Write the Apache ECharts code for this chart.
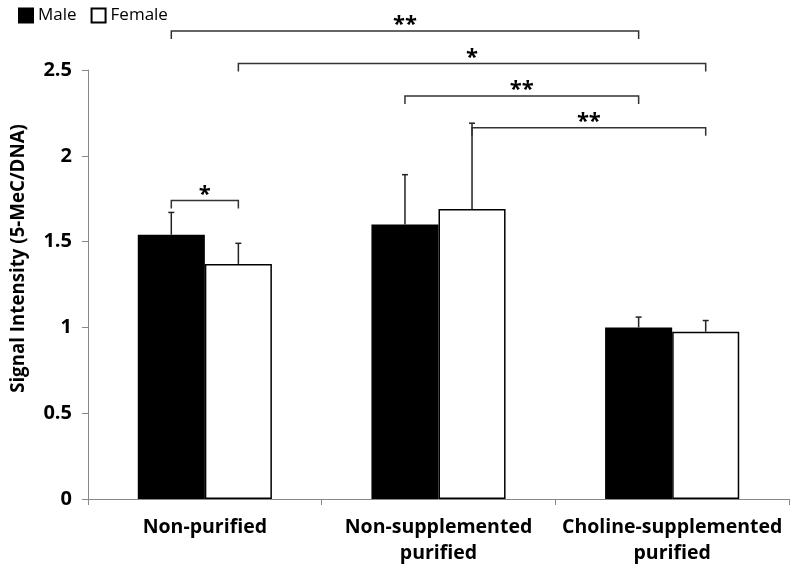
<!DOCTYPE html>
<html>
<head>
<meta charset="utf-8">
<script src="https://cdn.jsdelivr.net/npm/echarts@6/dist/echarts.min.js"></script>
<style>html,body{margin:0;padding:0;background:#fff}#c{width:792px;height:566px}</style>
</head>
<body>
<div id="c"></div>
<script>
const categories = ['Non-purified', 'Non-supplemented\npurified', 'Choline-supplemented\npurified'];
const seriesNames = ['Male', 'Female'];
const maleValues = [1.54, 1.60, 1.00];
const femaleValues = [1.37, 1.69, 0.975];
const maleErrors = [0.13, 0.29, 0.06];
const femaleErrors = [0.12, 0.50, 0.065];
const yTicks = [0, 0.5, 1, 1.5, 2, 2.5];
// significance brackets: [categoryA, seriesA, categoryB, seriesB, level]
const brackets = [[0, 0, 2, 0, 2.727], [0, 1, 2, 1, 2.538], [1, 0, 2, 0, 2.349], [1, 1, 2, 1, 2.163], [0, 0, 0, 1, 1.74]];
const bracketLabels = ['**', '*', '**', '**', '*'];

const BAR_RATIO = 0.287;
const FONT = 'Open Sans';

const chart = echarts.init(document.getElementById('c'));

function errSeries(values, errors, side, name) {
  return {
    type: 'custom',
    name: name + ' error',
    z: 5,
    silent: true,
    data: values.map((v, i) => [i, v, errors[i]]),
    renderItem: function (params, api) {
      const band = api.size([1, 0])[0];
      const bw = band * BAR_RATIO;
      const base = api.coord([api.value(0), api.value(1)]);
      const top = api.coord([api.value(0), api.value(1) + api.value(2)]);
      const x = base[0] + side * bw / 2;
      return {
        type: 'group',
        children: [
          { type: 'line', shape: { x1: x, y1: base[1], x2: x, y2: top[1] }, style: { stroke: '#222', lineWidth: 1.5 } },
          { type: 'line', shape: { x1: x - 3, y1: top[1], x2: x + 3, y2: top[1] }, style: { stroke: '#222', lineWidth: 1.5 } }
        ]
      };
    }
  };
}

const option = {
  animation: false,
  backgroundColor: '#fff',
  textStyle: { fontFamily: FONT },
  legend: {
    data: seriesNames,
    left: 13, top: 2,
    itemWidth: 14, itemHeight: 14, itemGap: 14,
    icon: 'rect',
    textStyle: { fontSize: 17, color: '#000', fontFamily: FONT }
  },
  grid: { left: 88, right: 3, top: 70, bottom: 66 },
  xAxis: {
    type: 'category',
    data: categories,
    axisLine: { lineStyle: { color: '#888', width: 1 } },
    axisTick: { show: true, length: 6, lineStyle: { color: '#888' } },
    axisLabel: { interval: 0, fontSize: 19.5, fontWeight: 'bold', color: '#000', margin: 15, lineHeight: 26, fontFamily: FONT }
  },
  yAxis: {
    type: 'value',
    min: yTicks[0], max: yTicks[yTicks.length - 1], interval: yTicks[1] - yTicks[0],
    name: 'Signal Intensity (5-MeC/DNA)',
    nameLocation: 'middle',
    nameGap: 60,
    nameTextStyle: { fontSize: 18.7, fontWeight: 'bold', color: '#000', fontFamily: FONT, padding: [0, 0, 0, 52] },
    splitLine: { show: false },
    axisLine: { show: true, lineStyle: { color: '#888', width: 1 } },
    axisTick: { show: true, length: 6, lineStyle: { color: '#888' } },
    axisLabel: { fontSize: 20, fontWeight: 'bold', color: '#000', margin: 16, fontFamily: FONT }
  },
  series: [
    {
      type: 'bar', name: seriesNames[0], data: maleValues,
      barWidth: (BAR_RATIO * 100) + '%', barGap: '0%',
      itemStyle: { color: '#000', borderColor: '#000', borderWidth: 1.5 }
    },
    {
      type: 'bar', name: seriesNames[1], data: femaleValues,
      barWidth: (BAR_RATIO * 100) + '%', barGap: '0%',
      itemStyle: { color: '#fff', borderColor: '#000', borderWidth: 1.5 }
    },
    errSeries(maleValues, maleErrors, -1, 'Male'),
    errSeries(femaleValues, femaleErrors, 1, 'Female'),
    {
      type: 'custom',
      name: 'significance',
      clip: false,
      silent: true,
      z: 6,
      data: brackets,
      renderItem: function (params, api) {
        const band = api.size([1, 0])[0];
        const bw = band * BAR_RATIO;
        const y = api.coord([0, api.value(4)])[1];
        const xa = api.coord([api.value(0), 0])[0] + (api.value(1) === 0 ? -0.5 : 0.5) * bw;
        const xb = api.coord([api.value(2), 0])[0] + (api.value(3) === 0 ? -0.5 : 0.5) * bw;
        return {
          type: 'group',
          children: [
            { type: 'polyline', shape: { points: [[xa, y + 8], [xa, y], [xb, y], [xb, y + 8]] }, style: { stroke: '#333', lineWidth: 1.5, fill: null } },
            { type: 'text', style: { text: bracketLabels[params.dataIndex], x: (xa + xb) / 2, y: y + 5, align: 'center', verticalAlign: 'bottom', font: 'bold 22px ' + FONT, fill: '#000' } }
          ]
        };
      }
    }
  ]
};
chart.setOption(option);
</script>
</body>
</html>
